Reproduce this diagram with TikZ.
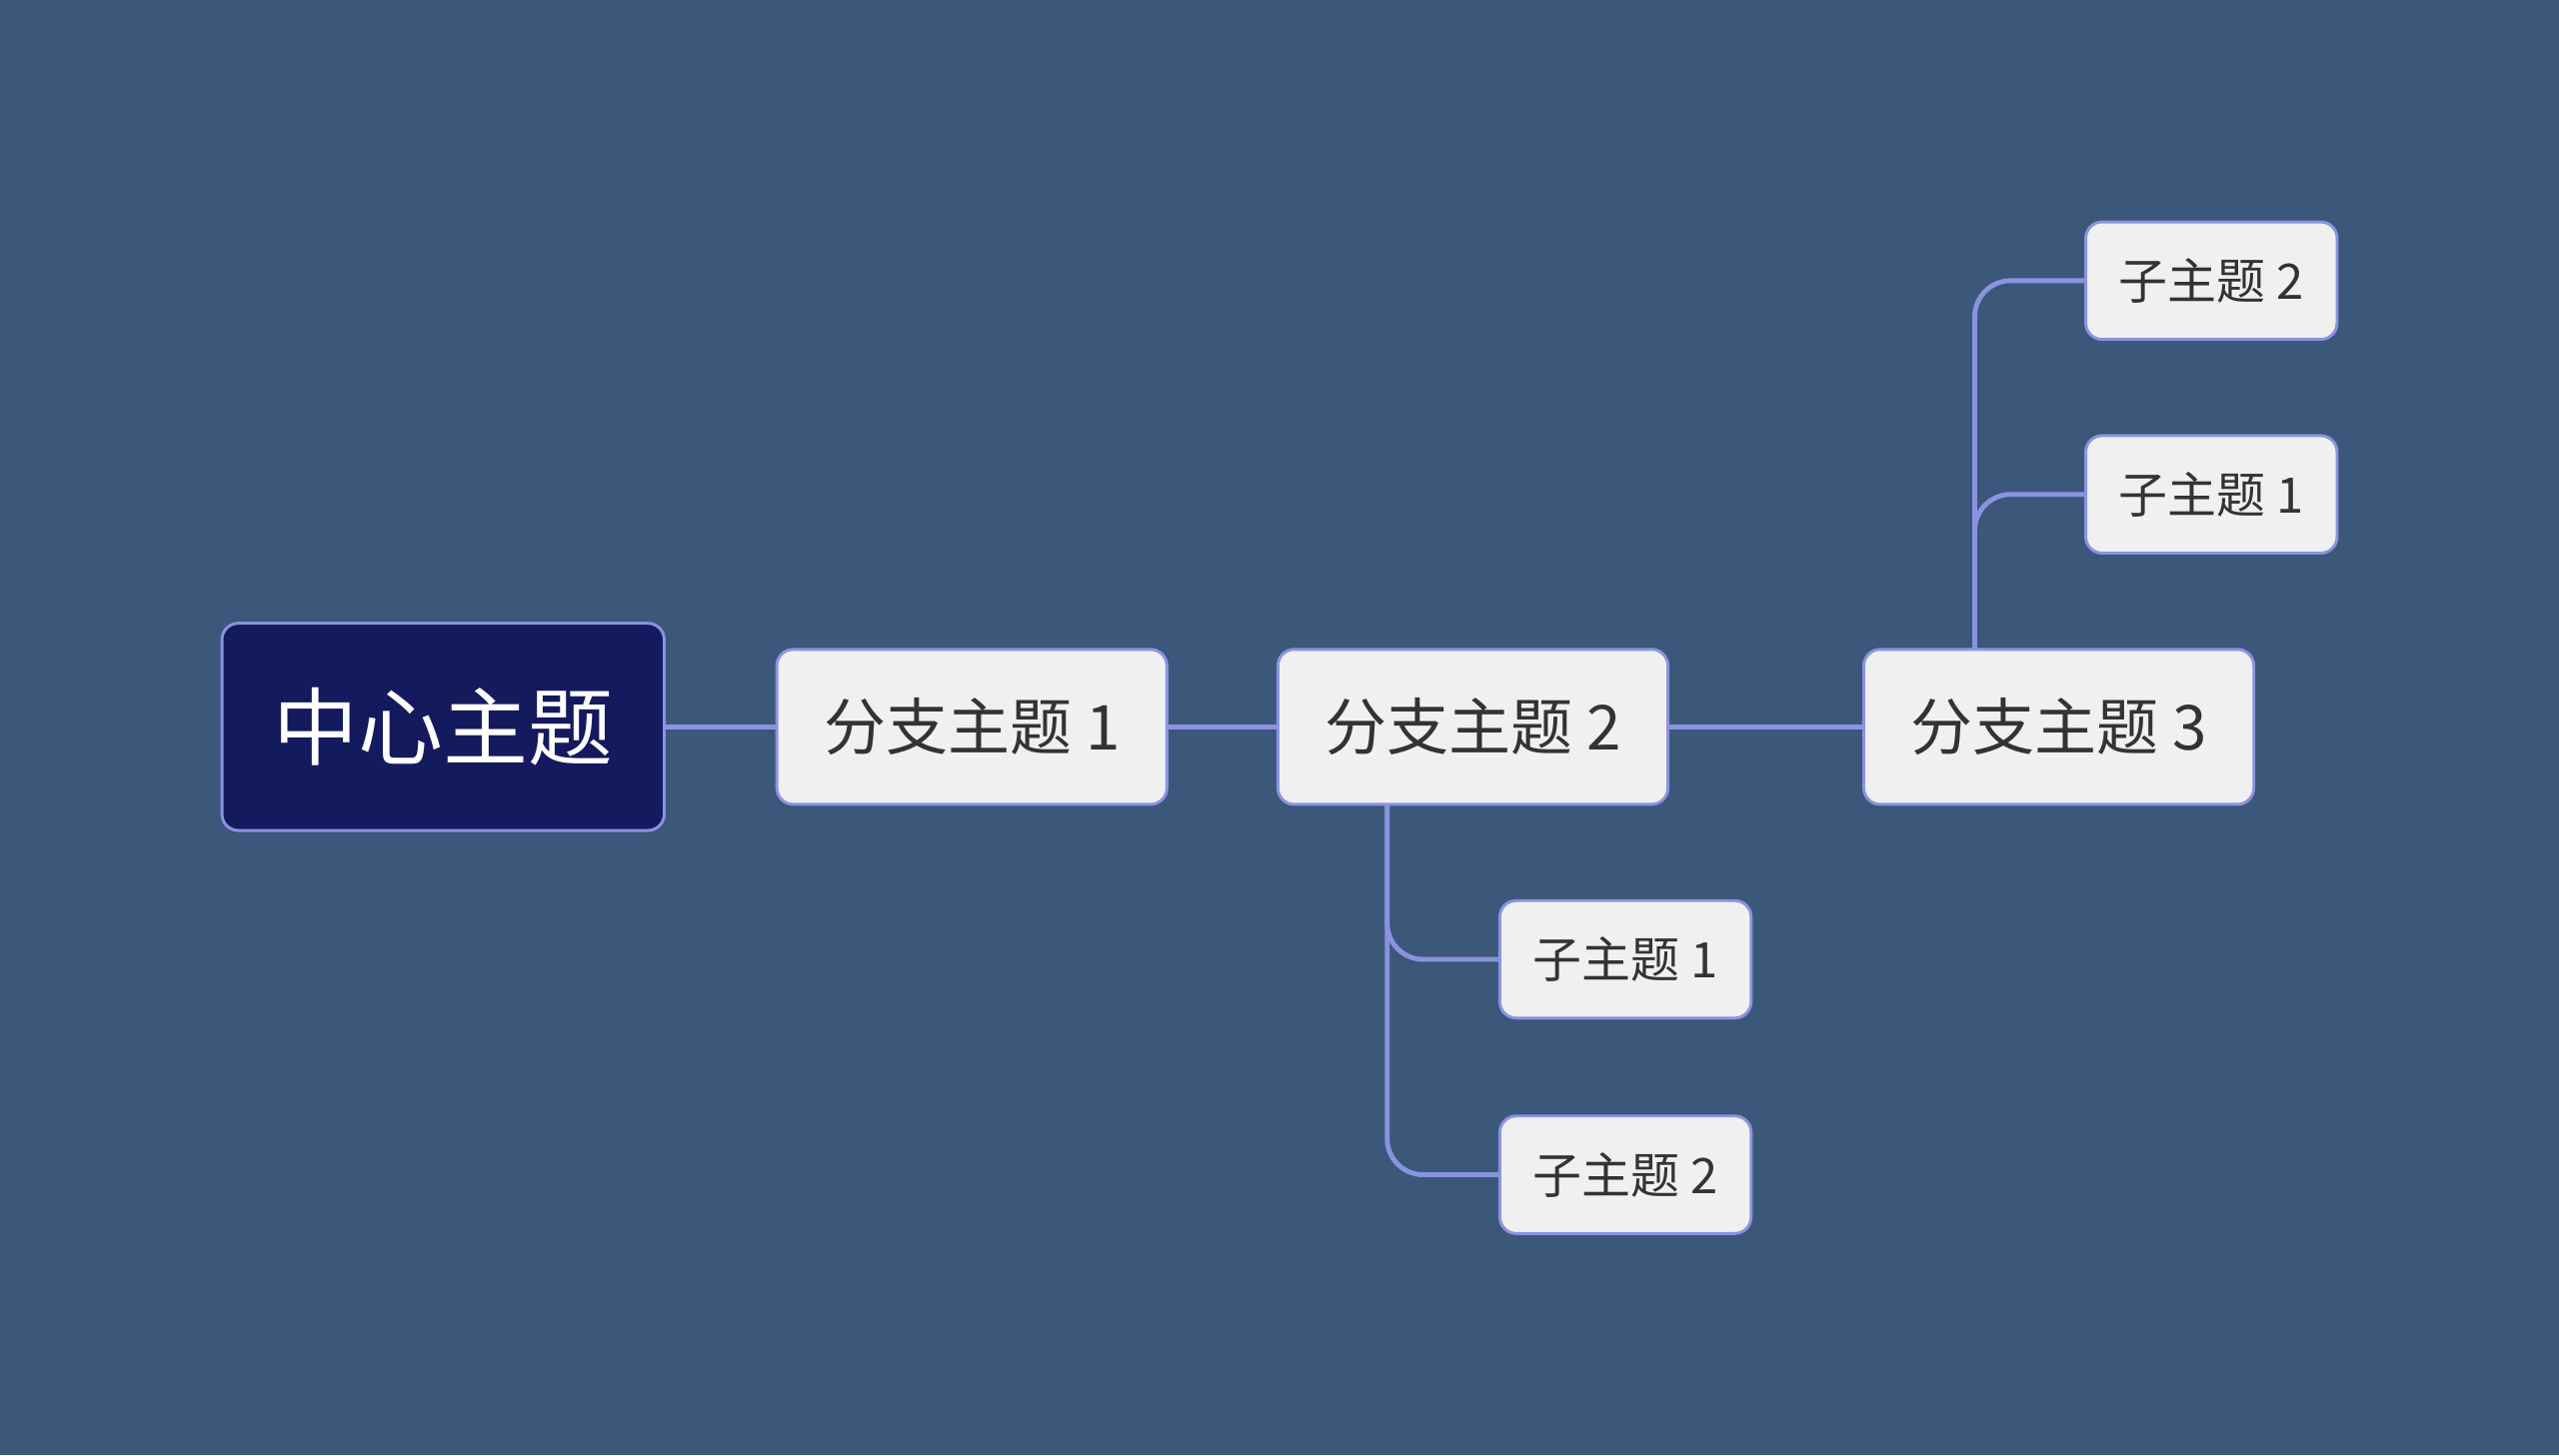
\documentclass[tikz,border=0pt]{standalone}
\usepackage{fontspec}
\setmainfont{Noto Sans CJK SC}
\begin{document}
\begin{tikzpicture}[x=1pt,y=1pt,
  box/.style={draw=lav,line width=1.8pt,rounded corners=10pt,fill=boxfill,text=txt,inner sep=0pt},
  link/.style={draw=lav,line width=3pt,rounded corners=22pt}]
\definecolor{bg}{HTML}{3B5779}
\definecolor{lav}{HTML}{8B93E0}
\definecolor{boxfill}{HTML}{F0F0F0}
\definecolor{txt}{HTML}{333333}
\definecolor{navy}{HTML}{141A5E}
\fill[bg] (0,0) rectangle (1568,-892);
\useasboundingbox (0,0) rectangle (1568,-892);
\node[box,fill=navy,text=white,minimum width=271pt,minimum height=127pt,font=\fontsize{52}{60}\selectfont] (c) at (271.5,-445.5) {中心主题};
\node[box,minimum width=239pt,minimum height=95pt,font=\fontsize{38}{44}\selectfont] (b1) at (595.5,-445.5) {分支主题 1};
\node[box,minimum width=239pt,minimum height=95pt,font=\fontsize{38}{44}\selectfont] (b2) at (902.5,-445.5) {分支主题 2};
\node[box,minimum width=239pt,minimum height=95pt,font=\fontsize{38}{44}\selectfont] (b3) at (1261.5,-445.5) {分支主题 3};
\node[box,minimum width=154pt,minimum height=72pt,font=\fontsize{30}{36}\selectfont] (s1) at (996,-588) {子主题 1};
\node[box,minimum width=154pt,minimum height=72pt,font=\fontsize{30}{36}\selectfont] (s2) at (996,-720) {子主题 2};
\node[box,minimum width=154pt,minimum height=72pt,font=\fontsize{30}{36}\selectfont] (t2) at (1355,-172) {子主题 2};
\node[box,minimum width=154pt,minimum height=72pt,font=\fontsize{30}{36}\selectfont] (t1) at (1355,-303) {子主题 1};
\coordinate (b2s) at (850,-493);
\coordinate (b3n) at (1210,-398);
\begin{scope}[on background layer/.style={}]
\draw[link] (c.east) -- (b1.west);
\draw[link] (b1.east) -- (b2.west);
\draw[link] (b2.east) -- (b3.west);
\draw[link] (b2s) |- (s1.west);
\draw[link] (b2s) |- (s2.west);
\draw[link] (b3n) |- (t1.west);
\draw[link] (b3n) |- (t2.west);
\end{scope}
\end{tikzpicture}
\end{document}
